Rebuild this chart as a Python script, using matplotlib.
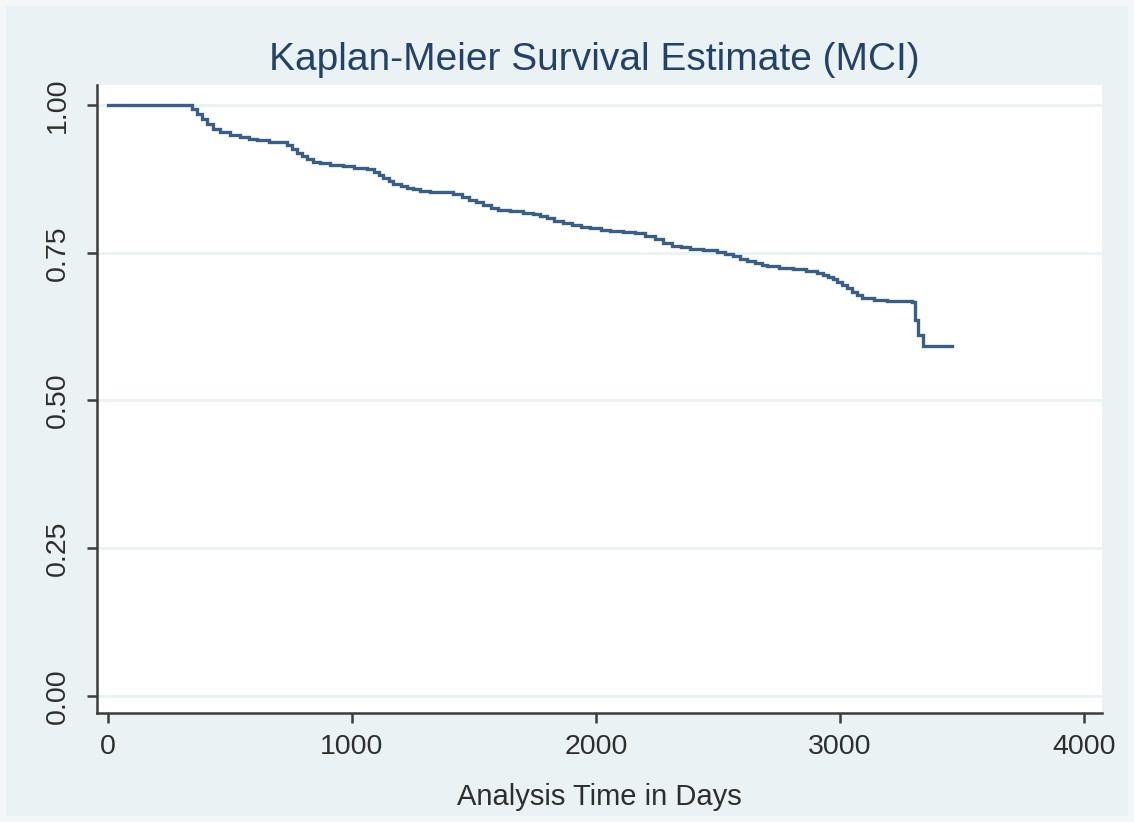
import matplotlib
matplotlib.use("Agg")
import matplotlib.pyplot as plt
from matplotlib.patches import Rectangle

plt.rcParams['font.family'] = ['Liberation Sans', 'DejaVu Sans']

# Kaplan-Meier step estimates (time in days, survival)
times = [0, 324, 345, 365, 385, 405, 430, 460, 500, 540, 580, 610, 660, 713,
         735, 755, 775, 795, 815, 840, 870, 910, 963, 1010, 1061, 1090, 1110,
         1127, 1150, 1170, 1200, 1225, 1250, 1280, 1320, 1414, 1450, 1480,
         1510, 1537, 1570, 1600, 1648, 1700, 1742, 1770, 1800, 1830, 1865,
         1900, 1940, 1975, 2020, 2057, 2110, 2160, 2200, 2240, 2275, 2310,
         2350, 2385, 2440, 2496, 2530, 2560, 2590, 2620, 2650, 2680, 2700,
         2750, 2808, 2860, 2906, 2930, 2950, 2970, 2988, 3010, 3030, 3050,
         3070, 3090, 3140, 3193, 3295, 3307, 3320, 3340, 3459]
survival = [1.000, 1.000, 0.993, 0.985, 0.976, 0.967, 0.959, 0.954, 0.949,
            0.946, 0.943, 0.940, 0.938, 0.937, 0.932, 0.925, 0.918, 0.913,
            0.908, 0.904, 0.901, 0.898, 0.896, 0.894, 0.892, 0.887, 0.882,
            0.877, 0.872, 0.867, 0.863, 0.860, 0.857, 0.854, 0.852, 0.850,
            0.845, 0.840, 0.835, 0.830, 0.826, 0.823, 0.820, 0.818, 0.816,
            0.812, 0.808, 0.804, 0.801, 0.797, 0.794, 0.791, 0.788, 0.786,
            0.785, 0.784, 0.779, 0.773, 0.766, 0.762, 0.759, 0.757, 0.754,
            0.752, 0.748, 0.744, 0.740, 0.736, 0.732, 0.729, 0.727, 0.725,
            0.722, 0.719, 0.715, 0.712, 0.709, 0.705, 0.700, 0.696, 0.690,
            0.684, 0.678, 0.673, 0.670, 0.668, 0.666, 0.636, 0.610, 0.592,
            0.592]

xticks = [0, 1000, 2000, 3000, 4000]
yticks = [0.00, 0.25, 0.50, 0.75, 1.00]
ytick_labels = ["0.00", "0.25", "0.50", "0.75", "1.00"]

title = "Kaplan-Meier Survival Estimate (MCI)"
xlabel = "Analysis Time in Days"

W, H = 1134, 822
fig = plt.figure(figsize=(W / 100, H / 100), dpi=100)
fig.patch.set_facecolor("#F4F7F8")
fig.patches.append(Rectangle((6 / W, 6 / H), 1 - 12 / W, 1 - 12 / H,
                             transform=fig.transFigure, facecolor="#EAF2F3",
                             edgecolor="none", zorder=0))

ax = fig.add_axes([97 / W, 1 - 713 / H, (1102 - 97) / W, (713 - 85) / H])
ax.set_facecolor("white")
ax.set_zorder(1)

ax.step(times, survival, where="post", color="#3A5F86", lw=2.4,
        solid_joinstyle="miter", zorder=3)

ax.set_xlim(-45, 4074)
ax.set_ylim(-0.0288, 1.0338)
ax.set_xticks(xticks)
ax.set_yticks(yticks)
ax.set_yticklabels(ytick_labels, rotation=90, va="center")

for y in yticks:
    ax.axhline(y, color="#EAF2F3", lw=2, zorder=1)

for s in ["top", "right"]:
    ax.spines[s].set_visible(False)
for s in ["left", "bottom"]:
    ax.spines[s].set_color("#3C3C3C")
    ax.spines[s].set_linewidth(1.8)

ax.tick_params(axis="both", direction="out", length=7, width=1.8,
               color="#3C3C3C", labelsize=20.5, labelcolor="#2E2E2E")
ax.tick_params(axis="y", pad=12)
ax.tick_params(axis="x", pad=8)

ax.set_xlabel(xlabel, fontsize=21, color="#2E2E2E", labelpad=17)
fig.text(594 / W, 1 - 60 / H, title, fontsize=28, color="#23426A",
         ha="center", va="center")

fig.savefig("out.png", dpi=100, facecolor=fig.get_facecolor())
